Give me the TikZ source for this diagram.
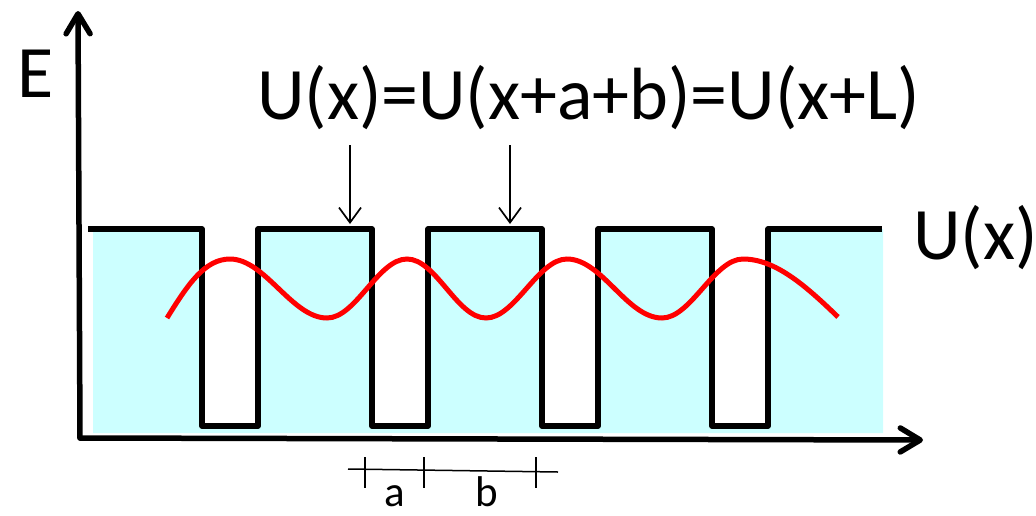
\documentclass[tikz,border=0pt]{standalone}
\usepackage{fontspec}
\setmainfont{Carlito}
\usetikzlibrary{arrows.meta}
\definecolor{wellcyan}{HTML}{CCFFFF}
\definecolor{wavered}{HTML}{FF0000}
\begin{document}
\begin{tikzpicture}[x=1pt,y=-1pt,
  axisline/.style={line width=5.5pt,line cap=round,-{Straight Barb[length=20pt,width=24pt,line cap=round,line join=round]}},
  potline/.style={line width=5.5pt,line join=round},
  waveline/.style={line width=5pt,wavered},
  pointer/.style={line width=1.7pt,-{Straight Barb[length=15pt,width=22pt]}},
  thinline/.style={line width=1.5pt},
  bigtext/.style={inner sep=0pt,anchor=base west,font=\fontsize{74}{80}\selectfont},
  smalltext/.style={inner sep=0pt,anchor=base,font=\fontsize{43}{50}\selectfont}]
\useasboundingbox (0,0) rectangle (1036,515);
% cyan fill of the barriers
\fill[wellcyan] (93,229) -- (202,229) -- (202,426) -- (258,426) -- (258,229)
  -- (372,229) -- (372,426) -- (428,426) -- (428,229)
  -- (542,229) -- (542,426) -- (598,426) -- (598,229)
  -- (712,229) -- (712,426) -- (768,426) -- (768,229)
  -- (883,229) -- (883,433) -- (93,433) -- cycle;
% axes
\coordinate (origin) at (80,438);
\coordinate (ytop) at (78,11);
\coordinate (xend) at (923,440);
\draw[axisline] (origin) -- (ytop);
\draw[axisline] (origin) -- (xend);
% potential
\draw[potline] (88,229) -| (202,426) -| (258,229) -| (372,426) -| (428,229)
  -| (542,426) -| (598,229) -| (712,426) -| (768,229) -- (882,229);
% wave function
\draw[waveline] (167,318) .. controls (188,284) and (205,259) .. (230,259)
  .. controls (265,259) and (292,318) .. (327,318)
  .. controls (356,318) and (378,259) .. (407,259)
  .. controls (436,259) and (457,318) .. (486,318)
  .. controls (515,318) and (538,259) .. (567,259)
  .. controls (602,259) and (627,318) .. (662,318)
  .. controls (691,318) and (714,259) .. (743,259)
  .. controls (775,259) and (805,285) .. (838,317);
% labels
\node[bigtext] (lblE) at (17,97) {E};
\node[bigtext] (eq) at (257,119) {U(x)=U(x+a+b)=U(x+L)};
\node[bigtext] (lblU) at (913,259) {U(x)};
% pointers
\coordinate (p1s) at (350,145);
\coordinate (p1e) at (350,224);
\coordinate (p2s) at (510,145);
\coordinate (p2e) at (510,224);
\draw[pointer] (p1s) -- (p1e);
\draw[pointer] (p2s) -- (p2e);
% period scale
\coordinate (sl) at (348,469);
\coordinate (sr) at (558,472);
\draw[thinline] (sl) -- (sr);
\coordinate (t1a) at (365,457); \coordinate (t1b) at (365,488);
\coordinate (t2a) at (424,457); \coordinate (t2b) at (424,488);
\coordinate (t3a) at (536,457); \coordinate (t3b) at (536,488);
\draw[thinline] (t1a) -- (t1b);
\draw[thinline] (t2a) -- (t2b);
\draw[thinline] (t3a) -- (t3b);
\node[smalltext] (lbla) at (395,506) {a};
\node[smalltext] (lblb) at (487,506) {b};
\end{tikzpicture}
\end{document}
